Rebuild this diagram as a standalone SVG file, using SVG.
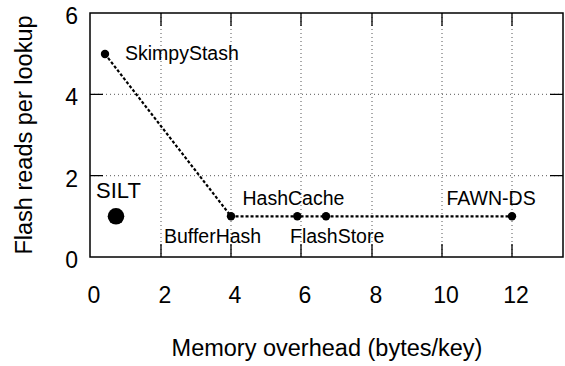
<svg xmlns="http://www.w3.org/2000/svg" width="565" height="366" viewBox="0 0 565 366">
<style>
text{font-family:"Liberation Sans",Arial,sans-serif;fill:#000}
.tick{font-size:23px}
.axis{font-size:23.5px}
.lbl{font-size:19.5px}
.grid{stroke:#555;stroke-width:1;stroke-dasharray:1 3;fill:none}
.tk{stroke:#000;stroke-width:1.3;fill:none}
.frame{stroke:#000;stroke-width:1.5;fill:none}
.data{stroke:#000;stroke-width:2.2;stroke-dasharray:3 2;fill:none}
.pt{fill:#000}
</style>
<g id="grid">
<path class="grid" d="M161 13V257M231 13V257M301 13V257M372 13V257M442 13V257M512 13V257M90 94.3H563M90 175.7H563"/>
</g>
<g id="ticks">
<path class="tk" d="M161 257v-13M231 257v-13M301 257v-13M372 257v-13M442 257v-13M512 257v-13M161 13v13M231 13v13M301 13v13M372 13v13M442 13v13M512 13v13M90 94.3h13M90 175.7h13M563 94.3h-13M563 175.7h-13"/>
</g>
<rect class="frame" x="90" y="13" width="473" height="244"/>
<g id="tick-labels" class="tick">
<text x="78" y="24" text-anchor="end">6</text>
<text x="78" y="105.3" text-anchor="end">4</text>
<text x="78" y="186.7" text-anchor="end">2</text>
<text x="78" y="268" text-anchor="end">0</text>
<text x="94" y="303" text-anchor="middle">0</text>
<text x="165" y="303" text-anchor="middle">2</text>
<text x="235" y="303" text-anchor="middle">4</text>
<text x="305" y="303" text-anchor="middle">6</text>
<text x="376" y="303" text-anchor="middle">8</text>
<text x="446" y="303" text-anchor="middle">10</text>
<text x="516" y="303" text-anchor="middle">12</text>
</g>
<g id="axis-labels" class="axis">
<text x="327" y="356" text-anchor="middle">Memory overhead (bytes/key)</text>
<text transform="translate(32 135) rotate(-90)" text-anchor="middle">Flash reads per lookup</text>
</g>
<g id="connectors">
<path class="data" d="M105 54L231 216.3H512"/>
</g>
<g id="SkimpyStash">
<circle class="pt" cx="105" cy="54" r="4.2"/>
<text class="lbl" x="125" y="60">SkimpyStash</text>
</g>
<g id="BufferHash">
<circle class="pt" cx="231" cy="216.3" r="4.2"/>
<text class="lbl" x="164" y="243">BufferHash</text>
</g>
<g id="HashCache">
<circle class="pt" cx="297.3" cy="216.3" r="4.2"/>
<text class="lbl" x="242.5" y="205">HashCache</text>
</g>
<g id="FlashStore">
<circle class="pt" cx="326" cy="216.3" r="4.2"/>
<text class="lbl" x="290" y="243">FlashStore</text>
</g>
<g id="FAWN-DS">
<circle class="pt" cx="512" cy="216.3" r="4.2"/>
<text class="lbl" x="446.5" y="205">FAWN-DS</text>
</g>
<g id="SILT">
<circle class="pt" cx="116" cy="216.3" r="8.3"/>
<text x="96" y="197.5" style="font-size:22px">SILT</text>
</g>
</svg>
